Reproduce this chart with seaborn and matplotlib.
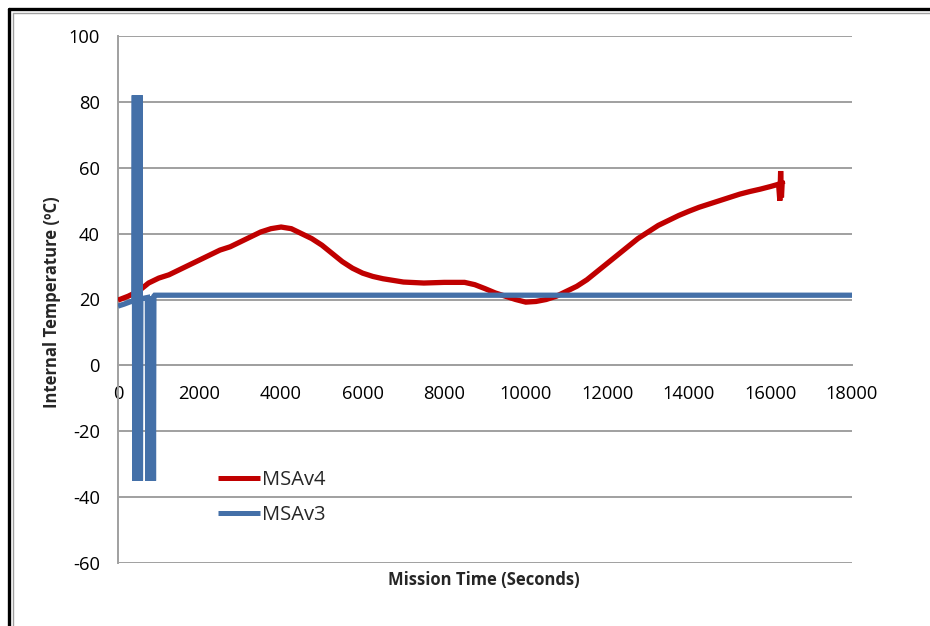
import matplotlib
matplotlib.use("Agg")
import matplotlib.pyplot as plt
from matplotlib.lines import Line2D
import seaborn as sns
import pandas as pd

# ---- data ----
v4_time = [0, 250, 500, 750, 1000, 1250, 1500, 1750, 2000, 2250, 2500, 2750, 3000,
           3250, 3500, 3750, 4000, 4250, 4500, 4750, 5000, 5250, 5500, 5750, 6000,
           6250, 6500, 6750, 7000, 7500, 8000, 8500, 8750, 9000, 9250, 9500, 9750,
           10000, 10250, 10500, 10750, 11000, 11250, 11500, 11750, 12000, 12250,
           12500, 12750, 13000, 13250, 13500, 13750, 14000, 14250, 14500, 14750,
           15000, 15250, 15500, 15750, 16000, 16200, 16230, 16250, 16270, 16290, 16300]
v4_temp = [19.8, 21.0, 22.5, 25.0, 26.5, 27.5, 29.0, 30.5, 32.0, 33.5, 35.0, 36.0, 37.5,
           39.0, 40.5, 41.5, 42.0, 41.5, 40.0, 38.5, 36.5, 34.0, 31.5, 29.5, 28.0,
           27.0, 26.3, 25.8, 25.3, 25.0, 25.2, 25.2, 24.5, 23.3, 22.0, 21.0, 20.0,
           19.2, 19.4, 20.0, 21.0, 22.5, 24.0, 26.0, 28.5, 31.0, 33.5,
           36.0, 38.5, 40.5, 42.5, 44.0, 45.5, 46.8, 48.0, 49.0, 50.0,
           51.0, 52.0, 52.8, 53.5, 54.3, 55.0, 50.0, 59.0, 51.0, 56.0, 55.0]

v3_time = [0, 150, 300, 390, 400, 410, 420, 430, 440, 450, 460, 470, 480, 490, 500, 510,
           520, 530, 540, 550, 560, 600, 680, 720, 730, 740, 750, 760, 770, 780, 790,
           800, 810, 820, 830, 840, 850, 860, 870, 880, 900, 18000]
v3_temp = [18.0, 18.6, 19.3, 19.6, 82, -35, 82, -35, 82, -35, 82, -35, 82, -35, 82,
           -35, 82, -35, 82, -35, 20.2, 20.3, 20.5, 20.6, -35, 21, -35, 21, -35, 21,
           -35, 21, -35, 21, -35, 21, -35, 21, -35, 21, 21.3, 21.3]

series_names = ["MSAv4", "MSAv3"]
series_colors = ["#C00000", "#4470A8"]

x_ticks = [0, 2000, 4000, 6000, 8000, 10000, 12000, 14000, 16000, 18000]
y_ticks = [-60, -40, -20, 0, 20, 40, 60, 80, 100]

df4 = pd.DataFrame({"t": v4_time, "temp": v4_temp})
df3 = pd.DataFrame({"t": v3_time, "temp": v3_temp})

# ---- style ----
sns.set_style("white")
plt.rcParams["font.family"] = ["Open Sans", "DejaVu Sans"]

W, H = 930, 626
fig = plt.figure(figsize=(W / 100, H / 100), dpi=100)
ax = fig.add_axes([118 / W, 1 - 563 / H, (852 - 118) / W, (563 - 36) / H])

grid_c = "#A0A0A0"
sns.lineplot(data=df4, x="t", y="temp", ax=ax, color=series_colors[0], lw=3.8,
             sort=False, estimator=None, label=series_names[0], zorder=3)
sns.lineplot(data=df3, x="t", y="temp", ax=ax, color=series_colors[1], lw=3.8,
             sort=False, estimator=None, label=series_names[1], zorder=4)
for ln in ax.get_lines():
    ln.set_solid_joinstyle("miter")
    ln.set_solid_capstyle("butt")

ax.set_xlim(0, 18000)
ax.set_ylim(-60, 100)
ax.set_xticks(x_ticks)
ax.set_yticks(y_ticks)
ax.set_xticklabels([str(v) for v in x_ticks])
ax.set_yticklabels([str(v) for v in y_ticks])

for yv in y_ticks:
    ax.axhline(yv, color=grid_c, lw=1.4, zorder=1)

for s in ["top", "right"]:
    ax.spines[s].set_visible(False)
ax.spines["left"].set_color(grid_c)
ax.spines["left"].set_linewidth(1.4)
ax.spines["bottom"].set_position(("data", 0))
ax.spines["bottom"].set_color(grid_c)
ax.spines["bottom"].set_linewidth(1.4)

ax.tick_params(axis="both", which="both", direction="out", length=5, width=1.2,
               color=grid_c, labelsize=13.2, labelcolor="black")
ax.tick_params(axis="x", pad=9)
ax.tick_params(axis="y", pad=8)

ax.set_xlabel("")
ax.set_ylabel("")
fig.text(484 / W, 1 - 580 / H, "Mission Time (Seconds)", ha="center", va="center",
         fontsize=12, fontweight="bold")
fig.text(52 / W, 1 - 302 / H, "Internal Temperature (ºC)", ha="center", va="center",
         rotation=90, fontsize=12, fontweight="bold")

leg = ax.legend(loc="upper left", bbox_to_anchor=((218 - 118) / 734, (563 - 470) / 527),
                frameon=False, fontsize=14.5, handlelength=2.1, handletextpad=0.1,
                labelspacing=0.75, borderpad=0, borderaxespad=0)
for h in leg.get_lines():
    h.set_linewidth(3.6)

# outer frame (top & left)
fig.add_artist(Line2D([9 / W, 1], [1 - 9 / H, 1 - 9 / H], color="black", lw=2.4,
                      transform=fig.transFigure))
fig.add_artist(Line2D([9 / W, 9 / W], [0, 1 - 9 / H], color="black", lw=2.4,
                      transform=fig.transFigure))
fig.add_artist(Line2D([13 / W, 1], [1 - 13 / H, 1 - 13 / H], color="#A0A0A0", lw=1.0,
                      transform=fig.transFigure))
fig.add_artist(Line2D([13 / W, 13 / W], [0, 1 - 13 / H], color="#A0A0A0", lw=1.0,
                      transform=fig.transFigure))

fig.savefig("out.png", dpi=100)
